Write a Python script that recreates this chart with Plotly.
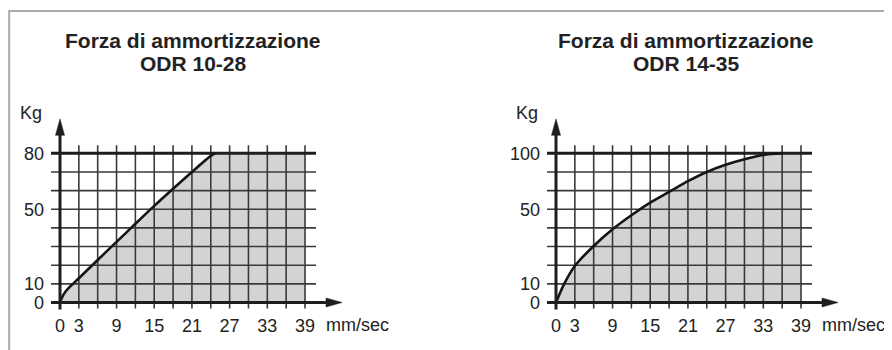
import plotly.graph_objects as go

# page is 892x350; the html body has an 8px margin, so the figure is 8px smaller
OFF = 8
W, H = 892 - OFF, 350 - OFF

# ---------------- data ----------------
speed_grid = [0, 3, 6, 9, 12, 15, 18, 21, 24, 27, 30, 33, 36, 39]
speed_labels = ["0", "3", "", "9", "", "15", "", "21", "", "27", "", "33", "", "39"]
speed_unit = "mm/sec"
force_unit = "Kg"
title_line1 = "Forza di ammortizzazione"

odr1028_title = "ODR 10-28"
odr1028_speed = [0, 0.6, 1.5, 3, 6, 9, 12, 15, 18, 21, 24, 24.7, 39]
odr1028_force = [0, 4.5, 8.2, 13, 22.8, 32.5, 42.2, 51.8, 61, 70, 78.6, 80, 80]
odr1028_max = 80
odr1028_ylabels = ["0", "10", "", "", "", "50", "", "", "80"]

odr1435_title = "ODR 14-35"
odr1435_speed = [0, 1.3, 3, 6, 9, 12, 15, 18, 21, 24, 27, 30, 33, 36, 39]
odr1435_force = [0, 12.5, 24.5, 37.9, 49.1, 58.5, 67, 74.1, 81.3, 87.5, 92.3, 96, 98.9, 100, 100]
odr1435_max = 100
odr1435_ylabels = ["0", "10", "", "", "", "50", "", "", "100"]

charts = [
    dict(title=odr1028_title, speed=odr1028_speed, force=odr1028_force,
         ymax=odr1028_max, ylabels=odr1028_ylabels),
    dict(title=odr1435_title, speed=odr1435_speed, force=odr1435_force,
         ymax=odr1435_max, ylabels=odr1435_ylabels),
]

# ---------------- layout constants (page pixels) ----------------
FONT = "Liberation Sans, Arial, Helvetica, sans-serif"
X0_PX = [60, 556]        # page x of speed 0
KX = 245.0 / 39.0        # px per mm/sec
Y0_PX = 302.5            # page y of force 0
ROW_PX = 18.65           # px per grid row
NROWS = 8
SPLIT_PX = 446           # page x where the two panels meet
TITLE_CX = [193, 686]

GRID_C = "#3a3a3a"
AXIS_C = "#1e1e1e"
FILL_C = "#d3d3d3"
TEXT_C = "#222222"


def px(xp):
    return (xp - OFF) / W


def py(yp):
    return 1 - (yp - OFF) / H


DOMAINS = [[0, px(SPLIT_PX)], [px(SPLIT_PX), 1.0]]

fig = go.Figure()
annotations = []
layout_axes = {}

for i, c in enumerate(charts):
    xa = "x" if i == 0 else "x2"
    ya = "y" if i == 0 else "y2"
    xkey = "xaxis" if i == 0 else "xaxis2"
    ykey = "yaxis" if i == 0 else "yaxis2"
    ymax = c["ymax"]
    step = ymax / NROWS
    ky = ROW_PX / step
    x0 = X0_PX[i]
    xmax = speed_grid[-1]

    def dx(p):
        return p / KX

    def dy(p, ky=ky):
        return p / ky

    left_px = OFF + DOMAINS[i][0] * W
    right_px = OFF + DOMAINS[i][1] * W
    xrange = [(left_px - x0) / KX, (right_px - x0) / KX]
    yrange = [-(350 - Y0_PX) / ky, (Y0_PX - OFF) / ky]

    # filled area under curve
    fig.add_trace(go.Scatter(
        x=c["speed"], y=c["force"], xaxis=xa, yaxis=ya, mode="lines",
        line=dict(width=0), fill="tozeroy", fillcolor=FILL_C, hoverinfo="skip"))

    # vertical grid lines
    gx, gy = [], []
    for s in speed_grid[1:]:
        gx += [s, s, None]
        gy += [-dy(6), ymax + dy(8), None]
    # horizontal grid lines (inner rows)
    rows = [r * step for r in range(NROWS + 1)]
    for r in rows[1:-1]:
        gx += [-dx(9), xmax + dx(11), None]
        gy += [r, r, None]
    fig.add_trace(go.Scatter(x=gx, y=gy, xaxis=xa, yaxis=ya, mode="lines",
                             line=dict(color=GRID_C, width=1.6), hoverinfo="skip"))
    # top thick line
    fig.add_trace(go.Scatter(x=[-dx(9), xmax + dx(11)], y=[ymax, ymax], xaxis=xa, yaxis=ya,
                             mode="lines", line=dict(color=AXIS_C, width=3), hoverinfo="skip"))

    # curve (rising part only; the flat part lies on the top line)
    k_end = next(j for j, f in enumerate(c["force"]) if f >= ymax) + 1
    fig.add_trace(go.Scatter(
        x=c["speed"][:k_end], y=c["force"][:k_end], xaxis=xa, yaxis=ya, mode="lines",
        line=dict(color="#151515", width=2.6, shape="spline", smoothing=0.8),
        hoverinfo="skip"))

    # axes lines
    fig.add_trace(go.Scatter(x=[-dx(9), xmax + dx(22)], y=[0, 0], xaxis=xa, yaxis=ya,
                             mode="lines", line=dict(color=AXIS_C, width=3), hoverinfo="skip"))
    fig.add_trace(go.Scatter(x=[0, 0], y=[-dy(7), ymax + dy(19)], xaxis=xa, yaxis=ya,
                             mode="lines", line=dict(color=AXIS_C, width=3), hoverinfo="skip"))
    # arrow heads
    fig.add_trace(go.Scatter(
        x=[xmax + dx(21), xmax + dx(37), xmax + dx(21), xmax + dx(21)],
        y=[dy(4.5), 0, -dy(4.5), dy(4.5)], xaxis=xa, yaxis=ya, mode="lines",
        fill="toself", fillcolor=AXIS_C, line=dict(color=AXIS_C, width=0.5), hoverinfo="skip"))
    fig.add_trace(go.Scatter(
        x=[-dx(4.5), 0, dx(4.5), -dx(4.5)],
        y=[ymax + dy(18), ymax + dy(34.5), ymax + dy(18), ymax + dy(18)], xaxis=xa, yaxis=ya,
        mode="lines", fill="toself", fillcolor=AXIS_C, line=dict(color=AXIS_C, width=0.5),
        hoverinfo="skip"))

    layout_axes[xkey] = dict(
        domain=DOMAINS[i], range=xrange, anchor="free", position=py(Y0_PX),
        tickmode="array", tickvals=speed_grid, ticktext=speed_labels,
        showgrid=False, zeroline=False, showline=False, ticks="", automargin=False,
        ticklabelstandoff=10, tickfont=dict(family=FONT, size=18, color=TEXT_C),
        fixedrange=True)
    layout_axes[ykey] = dict(
        domain=[0, 1], range=yrange, anchor="free", position=px(x0),
        tickmode="array", tickvals=rows, ticktext=c["ylabels"],
        showgrid=False, zeroline=False, showline=False, ticks="", automargin=False,
        ticklabelstandoff=16, tickfont=dict(family=FONT, size=18, color=TEXT_C),
        fixedrange=True)

    # titles
    annotations.append(dict(text="<b>" + title_line1 + "</b>", xref="paper", yref="paper",
                            x=px(TITLE_CX[i]), y=py(41), xanchor="center", yanchor="middle",
                            showarrow=False, font=dict(family=FONT, size=21, color=TEXT_C)))
    annotations.append(dict(text="<b>" + c["title"] + "</b>", xref="paper", yref="paper",
                            x=px(TITLE_CX[i]), y=py(63), xanchor="center", yanchor="middle",
                            showarrow=False, font=dict(family=FONT, size=21, color=TEXT_C)))
    # unit labels
    annotations.append(dict(text=force_unit, xref="paper", yref="paper",
                            x=px(x0 - 16), y=py(113), xanchor="right", yanchor="middle",
                            showarrow=False, font=dict(family=FONT, size=18, color=TEXT_C)))
    annotations.append(dict(text=speed_unit, xref="paper", yref="paper",
                            x=px(x0 + 245 + 19), y=py(325), xanchor="left", yanchor="middle",
                            showarrow=False, font=dict(family=FONT, size=18, color=TEXT_C)))

FRAME_X = OFF + 1.2   # left frame line (as close to the page edge as the figure allows)
fig.update_layout(
    width=W, height=H, margin=dict(l=0, r=0, t=0, b=0, autoexpand=False),
    paper_bgcolor="white", plot_bgcolor="rgba(0,0,0,0)",
    showlegend=False, annotations=annotations,
    shapes=[dict(type="path", xref="paper", yref="paper",
                 path=f"M {px(FRAME_X)} 0 L {px(FRAME_X)} {py(11)} L 1 {py(11)}",
                 line=dict(color="#a9a9a9", width=2))],
    **layout_axes)

fig.write_html("out.html", config=dict(displayModeBar=False))
